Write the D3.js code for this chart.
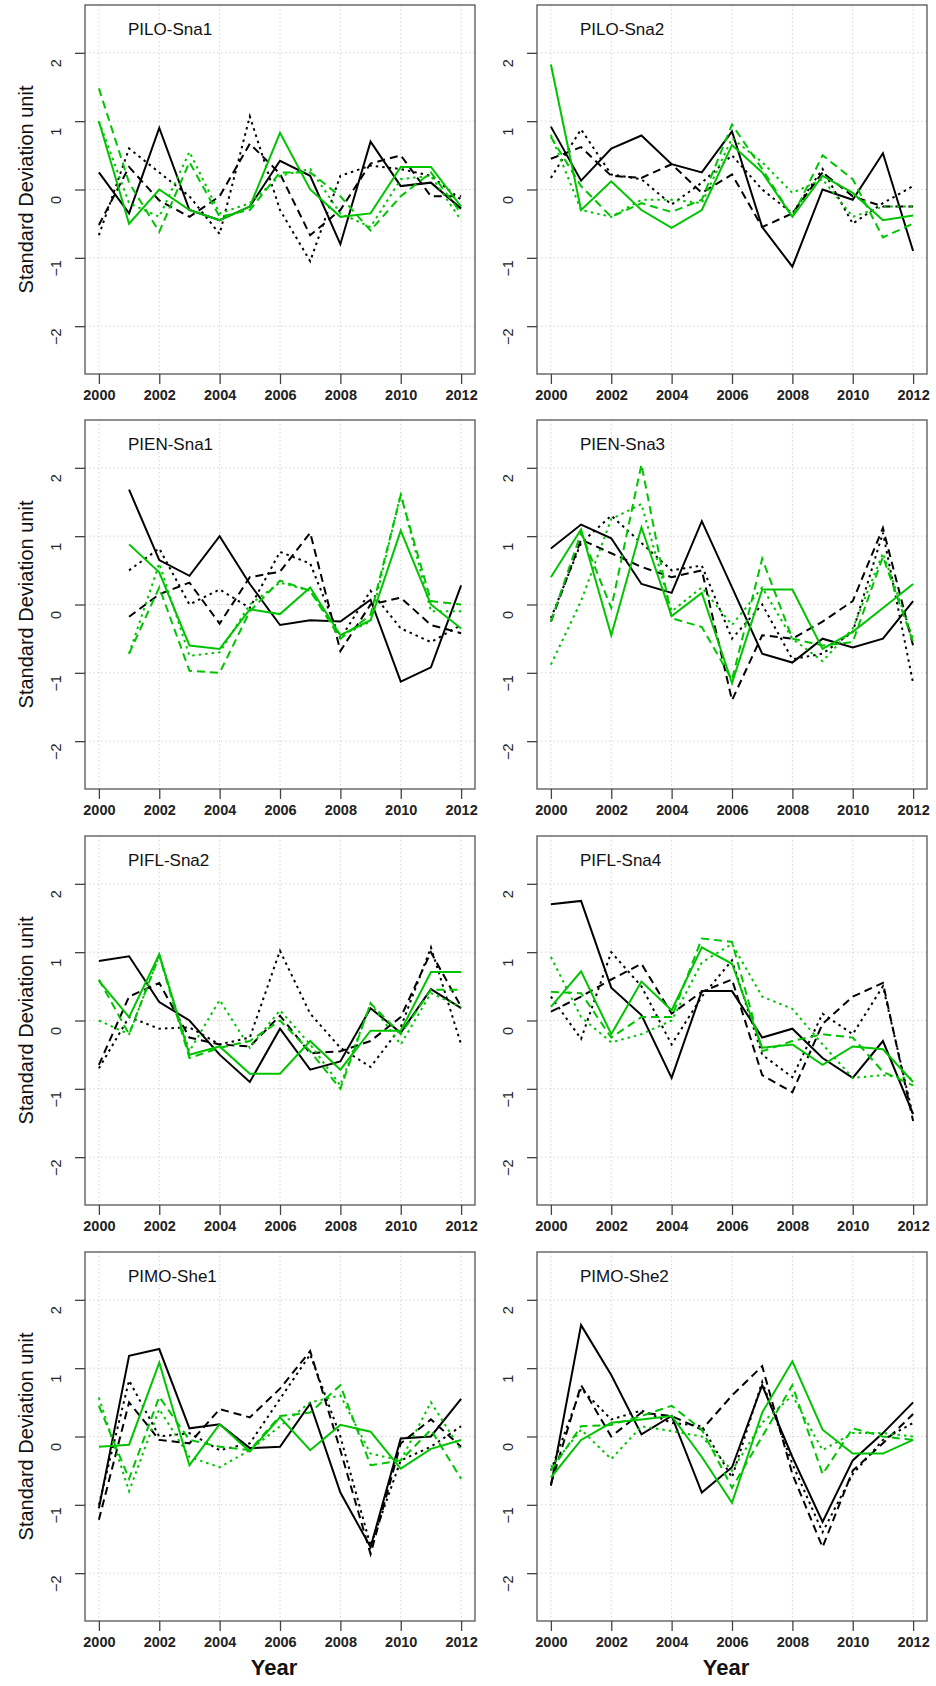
<!DOCTYPE html>
<html><head><meta charset="utf-8">
<script src="https://cdn.jsdelivr.net/npm/d3@7"></script>
<style>
body{margin:0;background:#fff;}
svg{font-family:"Liberation Sans",Arial,sans-serif;}
</style></head>
<body><svg id="c" width="936" height="1686"></svg>
<script>
const years = d3.range(2000, 2013);
const panelNames = ["PILO-Sna1","PILO-Sna2","PIEN-Sna1","PIEN-Sna3","PIFL-Sna2","PIFL-Sna4","PIMO-She1","PIMO-She2"];
const seriesKeys = ["BS","BD","BT","GS","GD","GT"];
const xTicks = [2000,2002,2004,2006,2008,2010,2012];
const yTicks = [-2,-1,0,1,2];
const N = null;

// one array per panel: [blackSolid, blackDashed, blackDotted, greenSolid, greenDashed, greenDotted]
const piloSna1 = [
  [0.25,-0.35,0.9,-0.3,-0.45,-0.25,0.42,0.2,-0.8,0.7,0.05,0.1,-0.28],
  [-0.52,0.33,-0.16,-0.4,-0.1,0.67,0.23,-0.67,-0.3,0.38,0.5,-0.1,-0.1],
  [-0.67,0.6,0.25,-0.1,-0.65,1.07,-0.3,-1.05,0.2,0.35,0.3,0.2,-0.15],
  [1.0,-0.5,0.0,-0.3,-0.45,-0.25,0.83,0.0,-0.4,-0.35,0.33,0.33,-0.25],
  [1.48,0.1,-0.62,0.4,-0.4,-0.3,0.25,0.25,-0.1,-0.6,-0.1,0.25,-0.35],
  [1.0,-0.2,-0.4,0.55,-0.35,-0.2,0.2,0.3,-0.35,-0.55,0.15,0.2,-0.45]];
const piloSna2 = [
  [0.92,0.13,0.6,0.79,0.37,0.25,0.85,-0.55,-1.13,0.0,-0.15,0.53,-0.9],
  [0.45,0.62,0.2,0.17,0.37,-0.05,0.22,-0.55,-0.35,0.25,-0.1,-0.25,-0.25],
  [0.17,0.88,0.22,0.15,-0.22,0.1,0.5,0.0,-0.35,0.3,-0.5,-0.2,0.05],
  [1.83,-0.3,0.12,-0.3,-0.56,-0.3,0.65,0.25,-0.4,0.2,-0.05,-0.45,-0.38],
  [0.77,0.05,-0.4,-0.2,-0.33,-0.15,0.95,0.3,-0.4,0.5,0.15,-0.7,-0.5],
  [0.8,-0.3,-0.4,-0.15,-0.15,-0.2,0.75,0.4,-0.05,0.15,-0.4,-0.25,-0.25]];
const pienSna1 = [
  [N,1.68,0.65,0.42,1.0,0.3,-0.3,-0.23,-0.25,0.07,-1.13,-0.92,0.28],
  [N,-0.18,0.15,0.32,-0.28,0.4,0.48,1.05,-0.68,0.0,0.1,-0.3,-0.42],
  [N,0.5,0.82,0.0,0.22,-0.05,0.77,0.6,-0.5,0.2,-0.35,-0.55,-0.3],
  [N,0.88,0.47,-0.6,-0.65,-0.07,-0.14,0.25,-0.45,-0.23,1.08,0.0,-0.35],
  [N,-0.72,0.25,-0.97,-1.0,-0.1,0.35,0.2,-0.5,-0.15,1.6,0.05,0.0],
  [N,-0.72,0.6,-0.75,-0.7,0.0,0.32,0.2,-0.45,-0.25,1.62,-0.1,-0.1]];
const pienSna3 = [
  [0.82,1.17,0.97,0.3,0.17,1.22,0.25,-0.72,-0.85,-0.5,-0.63,-0.5,0.05],
  [-0.25,0.95,0.75,0.55,0.4,0.5,-1.4,-0.45,-0.5,-0.25,0.05,1.12,-0.6],
  [-0.2,0.9,1.3,0.9,0.5,0.57,-0.5,0.0,-0.8,-0.72,-0.4,1.05,-1.15],
  [0.4,1.1,-0.45,1.13,-0.17,0.17,-1.15,0.22,0.22,-0.65,-0.4,-0.05,0.3],
  [-0.25,1.05,-0.05,2.05,-0.2,-0.33,-1.1,0.67,-0.5,-0.6,-0.55,0.7,-0.55],
  [-0.88,0.05,1.25,1.47,-0.1,0.25,-0.3,0.25,-0.5,-0.83,-0.35,0.75,-0.5]];
const piflSna2 = [
  [0.87,0.94,0.27,0.0,-0.5,-0.9,-0.12,-0.72,-0.6,0.18,-0.18,0.46,0.18],
  [-0.65,0.35,0.55,-0.25,-0.35,-0.38,0.07,-0.48,-0.45,-0.3,0.05,1.0,0.2],
  [-0.7,0.05,-0.12,-0.1,-0.35,-0.25,1.02,0.1,-0.4,-0.68,-0.1,1.07,-0.35],
  [0.58,0.05,0.97,-0.5,-0.38,-0.78,-0.78,-0.3,-0.72,-0.15,-0.15,0.71,0.71],
  [0.6,-0.2,0.95,-0.55,-0.4,-0.3,0.0,-0.45,-1.0,0.25,-0.2,0.45,0.45],
  [0.0,-0.2,0.95,-0.45,0.3,-0.4,0.15,-0.35,-0.95,0.25,-0.35,0.4,0.2]];
const piflSna4 = [
  [1.7,1.75,0.48,0.08,-0.84,0.43,0.43,-0.25,-0.12,-0.55,-0.84,-0.3,-1.37],
  [0.13,0.35,0.6,0.83,0.1,0.42,0.6,-0.8,-1.05,-0.05,0.35,0.55,-1.47],
  [0.35,-0.27,1.0,0.5,-0.35,0.35,0.88,-0.5,-0.83,0.1,-0.2,0.5,-1.4],
  [0.2,0.72,-0.2,0.57,0.15,1.07,0.83,-0.4,-0.35,-0.65,-0.38,-0.42,-0.9],
  [0.42,0.4,-0.25,0.05,0.05,1.2,1.15,-0.45,-0.3,-0.2,-0.25,-0.75,-0.95],
  [0.93,0.05,-0.32,-0.2,0.0,0.85,1.12,0.35,0.17,-0.35,-0.84,-0.8,-0.85]];
const pimoShe1 = [
  [-1.05,1.18,1.28,0.12,0.18,-0.17,-0.15,0.48,-0.82,-1.62,-0.03,0.0,0.55],
  [-1.22,0.5,-0.05,-0.1,0.4,0.28,0.7,1.25,-0.2,-1.72,-0.1,0.25,-0.15],
  [-1.0,0.82,0.0,0.05,-0.2,-0.1,0.55,1.2,0.0,-1.6,-0.35,-0.15,0.15],
  [-0.15,-0.12,1.08,-0.42,0.18,-0.22,0.28,-0.2,0.17,0.07,-0.47,-0.18,-0.05],
  [0.45,-0.62,0.58,-0.05,-0.15,-0.2,0.3,0.35,0.75,-0.42,-0.35,0.1,-0.62],
  [0.57,-0.8,0.4,-0.3,-0.45,-0.2,0.15,0.5,0.6,-0.25,-0.35,0.5,-0.2]];
const pimoShe2 = [
  [-0.72,1.63,0.9,0.03,0.3,-0.82,-0.45,0.75,-0.3,-1.25,-0.35,0.05,0.5],
  [-0.7,0.75,0.0,0.35,0.3,0.1,0.6,1.03,-0.55,-1.62,-0.5,-0.1,0.33],
  [-0.5,0.7,0.25,0.38,0.2,0.15,-0.6,0.8,-0.4,-1.4,-0.55,-0.05,0.2],
  [-0.6,-0.05,0.2,0.25,0.3,-0.3,-0.97,0.35,1.1,0.1,-0.25,-0.25,-0.05],
  [-0.5,0.15,0.17,0.3,0.45,0.1,-0.75,0.0,0.75,-0.55,0.12,0.0,-0.05],
  [-0.45,0.1,-0.33,0.15,0.08,0.0,-0.5,0.2,0.6,-0.2,0.05,0.05,0.0]];
const panelData = [piloSna1, piloSna2, pienSna1, pienSna3, piflSna2, piflSna4, pimoShe1, pimoShe2];

// line styles per series
const styles = {
  BS:{color:"#000", dash:null},
  BD:{color:"#000", dash:"8,5"},
  BT:{color:"#000", dash:"2.5,4"},
  GS:{color:"#00c400", dash:null},
  GD:{color:"#00c400", dash:"8,5"},
  GT:{color:"#00c400", dash:"2.5,4"}
};

const svg = d3.select("#c");
const colLeft = [85, 537], rowTop = [5, 420, 836, 1252];
const PW = 390, PH = 369;

panelNames.forEach((name, i) => {
  const col = i % 2, row = Math.floor(i / 2);
  const g = svg.append("g").attr("transform", `translate(${colLeft[col]},${rowTop[row]})`);
  const x = d3.scaleLinear().domain([1999.54, 2012.46]).range([0, PW]);
  const y = d3.scaleLinear().domain([-2.7, 2.7]).range([PH, 0]);

  // grid
  g.selectAll(".gx").data(xTicks).join("line")
    .attr("x1", d => x(d)).attr("x2", d => x(d)).attr("y1", 0).attr("y2", PH)
    .attr("stroke", "#d4d4d4").attr("stroke-dasharray", "1.5,2.5");
  g.selectAll(".gy").data(yTicks).join("line")
    .attr("x1", 0).attr("x2", PW).attr("y1", d => y(d)).attr("y2", d => y(d))
    .attr("stroke", "#d4d4d4").attr("stroke-dasharray", "1.5,2.5");

  // lines
  const line = d3.line().defined(d => d[1] !== null).x(d => x(d[0])).y(d => y(d[1]));
  seriesKeys.forEach((k, j) => {
    const pts = years.map((yr, t) => [yr, panelData[i][j][t]]);
    g.append("path").attr("d", line(pts)).attr("fill", "none")
      .attr("stroke", styles[k].color).attr("stroke-width", 2)
      .attr("stroke-dasharray", styles[k].dash);
  });

  // box
  g.append("rect").attr("width", PW).attr("height", PH).attr("fill", "none")
    .attr("stroke", "#555").attr("stroke-width", 1.3);

  // axes
  const xa = g.append("g").attr("transform", `translate(0,${PH})`)
    .call(d3.axisBottom(x).tickValues(xTicks).tickFormat(d3.format("d")).tickSize(10).tickPadding(6));
  xa.select(".domain").remove();
  xa.selectAll("line").attr("stroke", "#444").attr("stroke-width", 1.3);
  xa.selectAll("text").attr("font-size", 14.5).attr("font-weight", "bold").attr("fill", "#222")
    .attr("font-family", "Liberation Sans, Arial, sans-serif");

  const ya = g.append("g").call(d3.axisLeft(y).tickValues(yTicks).tickFormat(d3.format("d")).tickSize(10).tickPadding(0));
  ya.select(".domain").remove();
  ya.selectAll("line").attr("stroke", "#444").attr("stroke-width", 1.3);
  ya.selectAll("text").attr("font-size", 14.5).attr("fill", "#222")
    .attr("font-family", "Liberation Sans, Arial, sans-serif")
    .attr("text-anchor", "middle").attr("dy", 0)
    .attr("transform", function() {
      const ty = d3.select(this.parentNode).attr("transform");
      return "translate(-24,0) rotate(-90)";
    });

  g.append("text").attr("x", 43).attr("y", 30).attr("font-size", 17).attr("fill", "#111").text(name);

  if (col === 0) {
    g.append("text").attr("transform", `translate(-52,${PH / 2}) rotate(-90)`)
      .attr("text-anchor", "middle").attr("font-size", 20).attr("fill", "#111")
      .text("Standard Deviation unit");
  }
  if (row === 3) {
    g.append("text").attr("x", PW / 2 - 6).attr("y", PH + 54).attr("text-anchor", "middle")
      .attr("font-size", 22).attr("font-weight", "bold").attr("fill", "#111").text("Year");
  }
});
</script></body></html>
